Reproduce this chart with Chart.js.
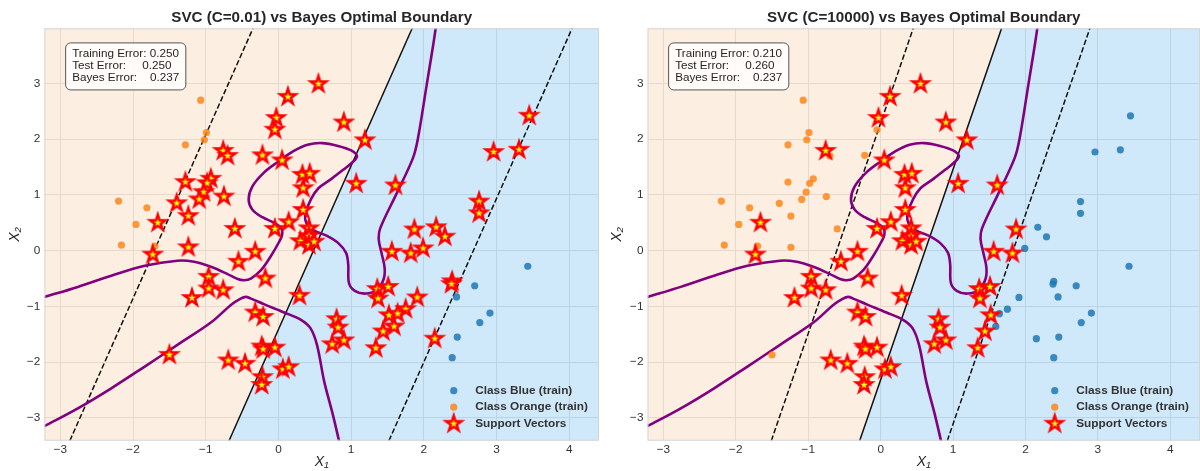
<!DOCTYPE html>
<html>
<head>
<meta charset="utf-8">
<script src="https://cdn.jsdelivr.net/npm/chart.js@4.4.1/dist/chart.umd.min.js"></script>
<style>
  html, body { margin: 0; padding: 0; background: #fff; }
  #wrap { position: relative; width: 1200px; height: 471px; overflow: hidden; }
  .panel { position: absolute; top: 0; width: 600px; height: 471px; }
</style>
</head>
<body>
<div id="wrap">
  <div class="panel" style="left:0"><canvas id="lowC" width="600" height="471"></canvas></div>
  <div class="panel" style="left:600px"><canvas id="highC" width="600" height="471"></canvas></div>
</div>
<script>
// axis limits and ticks
const xLimits = [-3.22, 4.41];
const yLimits = [-3.41, 3.99];
const xTickValues = [-3, -2, -1, 0, 1, 2, 3, 4];
const yTickValues = [-3, -2, -1, 0, 1, 2, 3];

// training data, class blue
const blueX = [2.29, 1.99, 3.43, 2.39, 2.38, 2.70, 2.45, 1.91, 1.75, 1.64, 2.91, 2.77, 1.59, 2.15, 2.46, 2.39, 3.45, 2.96, 3.31, 2.76, 2.76, 2.17,
  -0.76, -1.66, 1.19, 1.07, 1.61, 1.87, -1.73, -0.96, -0.96, -1.19, 1.56, 1.82, 1.36, 1.51, 1.37, 1.52, 1.44, 1.34, 0.80, 0.82, 0.74, 0.90, 0.29, -0.76];
const blueY = [0.25, 0.04, -0.28, -0.55, -0.60, -0.63, -0.83, -0.84, -1.05, -1.13, -1.12, -1.29, -1.36, -1.58, -1.55, -1.92, 2.42, 1.77, 1.81, 0.88, 0.67, 0.42,
  1.79, 0.50, 1.98, 1.20, 1.17, 0.38, -0.07, -0.47, -0.68, -0.85, -0.02, -0.05, -0.69, -0.65, -0.86, -1.16, -1.45, -1.75, -1.23, -1.38, -1.68, -1.61, -0.81, -0.71];

// training data, class orange
const orangeX = [-1.07, -0.99, -1.02, -1.28, -2.20, -1.81, -1.96, -2.16, -1.70, -0.70, -0.22, -0.05, -1.28, -0.93, -0.98, -1.03, -1.09, -0.75, -1.40, -1.24, -0.60, -1.24, -1.50,
  0.55, 0.13, -0.03, 0.05, 0.33, 0.43, 0.34, -0.05, 0.14, 0.34, 0.42, 0.90, -0.55, -0.32, -0.18, -0.32, -0.21, -0.23, -0.21, -0.05, -0.69, -0.46, 0.06, 0.14, -0.22, -0.23, 0.30, 0.42, 0.42, 0.49];
const orangeY = [2.70, 2.12, 1.99, 1.90, 0.89, 0.77, 0.47, 0.10, 0.08, 1.70, 1.71, 2.17, 1.23, 1.29, 1.21, 1.05, 0.92, 0.97, 0.85, 0.62, 0.39, 0.06, -1.87,
  2.99, 2.76, 2.38, 1.62, 1.36, 1.38, 1.12, 0.39, 0.51, 0.73, 0.40, 2.30, -0.20, -0.02, -0.50, -1.11, -1.19, -1.72, -1.77, -1.74, -1.97, -2.03, -2.13, -2.09, -2.27, -2.41, 0.17, 0.26, 0.10, 0.16];

// support vectors of the C=10000 model (also support vectors at C=0.01)
const svHighX = [-0.76, -1.66, 1.19, 1.07, 1.61, 1.87, -1.73, -0.96, -0.96, -1.19, 1.56, 1.82, 1.36, 1.51, 1.37, 1.52, 1.44, 1.34, 0.80, 0.82, 0.74, 0.90, 0.29, -0.76,
  0.55, 0.13, -0.03, 0.05, 0.33, 0.43, 0.34, -0.05, 0.14, 0.34, 0.42, 0.90, -0.55, -0.32, -0.18, -0.32, -0.21, -0.23, -0.21, -0.05, -0.69, -0.46, 0.06, 0.14, -0.22, -0.23, 0.30, 0.42, 0.42, 0.49];
const svHighY = [1.79, 0.50, 1.98, 1.20, 1.17, 0.38, -0.07, -0.47, -0.68, -0.85, -0.02, -0.05, -0.69, -0.65, -0.86, -1.16, -1.45, -1.75, -1.23, -1.38, -1.68, -1.61, -0.81, -0.71,
  2.99, 2.76, 2.38, 1.62, 1.36, 1.38, 1.12, 0.39, 0.51, 0.73, 0.40, 2.30, -0.20, -0.02, -0.50, -1.11, -1.19, -1.72, -1.77, -1.74, -1.97, -2.03, -2.13, -2.09, -2.27, -2.41, 0.17, 0.26, 0.10, 0.16];
// extra support vectors of the C=0.01 model
const svLowExtraX = [-0.70, -0.22, -0.05, -1.28, -0.93, -0.98, -1.03, -1.09, -0.75, -1.40, -1.24, -0.60, -1.24, -1.50,
  2.29, 1.99, 2.39, 2.38, 1.91, 1.75, 1.64, 1.59, 2.15, 3.45, 2.96, 3.31, 2.76, 2.76, 2.17];
const svLowExtraY = [1.70, 1.71, 2.17, 1.23, 1.29, 1.21, 1.05, 0.92, 0.97, 0.85, 0.62, 0.39, 0.06, -1.87,
  0.25, 0.04, -0.55, -0.60, -0.84, -1.05, -1.13, -1.36, -1.58, 2.42, 1.77, 1.81, 0.88, 0.67, 0.42];

// SVC boundary and margins: x where they cross y = yLimits[0] and y = yLimits[1]
const lowCDecisionX = [-0.68, 1.84];
const lowCMarginNegX = [-2.87, -0.35];
const lowCMarginPosX = [1.52, 4.04];
const highCDecisionX = [-0.29, 1.67];
const highCMarginNegX = [-1.51, 0.45];
const highCMarginPosX = [0.92, 2.89];

// Bayes optimal boundary (two contour pieces)
const bayesUpperX = [-3.22, -2.76, -2.30, -1.84, -1.39, -1.16, -0.93, -0.70, -0.56, -0.47, -0.38, -0.24, -0.11, 0.01, 0.05, 0.04, -0.06, -0.22, -0.36, -0.41,
  -0.36, -0.20, 0.00, 0.20, 0.40, 0.60, 0.82, 1.00, 1.08, 1.03, 0.89, 0.71, 0.55, 0.45, 0.38, 0.37, 0.42, 0.52, 0.66, 0.82,
  0.93, 0.96, 0.97, 1.05, 1.20, 1.36, 1.45, 1.46, 1.42, 1.38, 1.40, 1.62, 1.85, 1.92, 2.04, 2.13, 2.17];
const bayesUpperY = [-0.83, -0.65, -0.45, -0.27, -0.18, -0.20, -0.29, -0.42, -0.51, -0.53, -0.50, -0.35, -0.11, 0.16, 0.28, 0.40, 0.50, 0.60, 0.74, 0.92,
  1.15, 1.40, 1.60, 1.78, 1.90, 1.93, 1.88, 1.80, 1.70, 1.60, 1.45, 1.27, 1.12, 0.93, 0.70, 0.55, 0.42, 0.34, 0.27, 0.14,
  -0.04, -0.25, -0.58, -0.72, -0.77, -0.70, -0.50, -0.30, -0.05, 0.20, 0.40, 1.01, 1.66, 2.02, 2.98, 3.70, 4.05];
const bayesLowerX = [-3.22, -2.76, -2.30, -1.84, -1.39, -0.93, -0.65, -0.52, -0.45, -0.38, -0.20, 0.08, 0.31, 0.44, 0.53, 0.63, 0.75, 0.84];
const bayesLowerY = [-3.15, -2.83, -2.47, -2.08, -1.69, -1.29, -0.97, -0.86, -0.83, -0.86, -0.96, -1.11, -1.24, -1.39, -1.69, -2.35, -2.95, -3.45];

// errors
const cLabels = ["0.01", "10000"];
const trainingErrors = [0.250, 0.210];
const testErrors = [0.250, 0.260];
const bayesError = 0.237;

const FONT = "'Liberation Sans', Arial, sans-serif";
const TEXT = "#262626";

function pts(xs, ys) {
    return xs.map(function (x, i) { return { x: x, y: ys[i] }; });
}

function linePts(xs) {
    return [{ x: xs[0], y: yLimits[0] }, { x: xs[1], y: yLimits[1] }];
}

function makeStar() {
    const c = document.createElement("canvas");
    c.width = 28;
    c.height = 28;
    const g = c.getContext("2d");
    const R = 8.1, r = R * 0.382;
    g.beginPath();
    for (let i = 0; i < 10; i++) {
        const a = -Math.PI / 2 + i * Math.PI / 5;
        const rad = i % 2 ? r : R;
        g.lineTo(14 + rad * Math.cos(a), 14 + rad * Math.sin(a));
    }
    g.closePath();
    g.fillStyle = "#ffff00";
    g.fill();
    g.lineJoin = "miter";
    g.lineWidth = 2.5;
    g.strokeStyle = "#ff0000";
    g.stroke();
    return c;
}

const starImg = makeStar();
const BLUE = "rgba(31,119,180,0.85)";
const ORANGE = "rgba(255,127,14,0.8)";

const overlay = {
    id: "overlay",
    afterDatasetsDraw(chart, args, opts) {
        const ctx = chart.ctx;
        const a = chart.chartArea;
        const W = a.right - a.left, H = a.bottom - a.top;
        ctx.save();

        // frame
        ctx.strokeStyle = "#d4d4d4";
        ctx.lineWidth = 1;
        ctx.strokeRect(a.left + 0.5, a.top + 0.5, W - 1, H - 1);

        // error box
        ctx.font = "11.7px " + FONT;
        ctx.textBaseline = "middle";
        ctx.textAlign = "left";
        const lines = opts.lines;
        let w = 0;
        lines.forEach(function (t) { w = Math.max(w, ctx.measureText(t).width); });
        const tx = a.left + 0.05 * W;
        const ty = a.top + 0.05 * H;
        const bx = tx - 6.5, by = ty - 6, bw = w + 13, bh = 47;
        ctx.beginPath();
        ctx.roundRect(bx, by, bw, bh, 5);
        ctx.fillStyle = "rgba(255,255,255,0.8)";
        ctx.fill();
        ctx.strokeStyle = "#555";
        ctx.lineWidth = 1;
        ctx.stroke();
        ctx.fillStyle = TEXT;
        lines.forEach(function (t, i) { ctx.fillText(t, tx, by + 10.5 + 12 * i); });

        // legend
        const items = [
            { label: "Class Blue (train)", kind: "blue" },
            { label: "Class Orange (train)", kind: "orange" },
            { label: "Support Vectors", kind: "star" }
        ];
        ctx.font = "bold 11.8px " + FONT;
        let lw = 0;
        items.forEach(function (it) { lw = Math.max(lw, ctx.measureText(it.label).width); });
        const textX = a.right - 11 - lw;
        const markX = textX - 21.5;
        items.forEach(function (it, i) {
            const y = a.bottom - 17 - 16.5 * (2 - i);
            if (it.kind === "star") {
                ctx.drawImage(starImg, markX - 14, y - 14);
            } else {
                ctx.beginPath();
                ctx.arc(markX, y, 3.6, 0, Math.PI * 2);
                ctx.fillStyle = it.kind === "blue" ? BLUE : ORANGE;
                ctx.fill();
            }
            ctx.fillStyle = "#333";
            ctx.fillText(it.label, textX, y);
        });
        ctx.restore();
    }
};

function fmt(v) {
    return v < 0 ? "\u2212" + Math.abs(v) : String(v);
}

function noPad(s) {
    s.paddingLeft = 0;
    s.paddingRight = 0;
    s.paddingTop = 0;
    s.paddingBottom = 0;
}

function makeChart(id, k, svX, svY, decisionX, marginNegX, marginPosX, yAxisWidth, yTitlePad, rightPad) {
    const canvas = document.getElementById(id);
    const lineBase = { type: "scatter", showLine: true, pointRadius: 0, tension: 0, clip: 0 };

    new Chart(canvas, {
        type: "scatter",
        data: {
            datasets: [
                { label: "Support Vectors", data: pts(svX, svY), pointStyle: starImg, order: 0 },
                { label: "Class Orange (train)", data: pts(orangeX, orangeY), pointRadius: 3.6, backgroundColor: ORANGE, borderWidth: 0, order: 1 },
                { label: "Class Blue (train)", data: pts(blueX, blueY), pointRadius: 3.6, backgroundColor: BLUE, borderWidth: 0, order: 2 },
                Object.assign({}, lineBase, { data: pts(bayesUpperX, bayesUpperY), borderColor: "#800080", borderWidth: 2.6, tension: 0.35, order: 3 }),
                Object.assign({}, lineBase, { data: pts(bayesLowerX, bayesLowerY), borderColor: "#800080", borderWidth: 2.6, tension: 0.35, order: 3 }),
                Object.assign({}, lineBase, { data: linePts(decisionX), borderColor: "#111", borderWidth: 1.5, order: 4 }),
                Object.assign({}, lineBase, { data: linePts(marginNegX), borderColor: "#111", borderWidth: 1.5, borderDash: [5.5, 2.4], order: 4 }),
                Object.assign({}, lineBase, { data: linePts(marginPosX), borderColor: "#111", borderWidth: 1.5, borderDash: [5.5, 2.4], order: 4 }),
                // predicted regions: orange left of the boundary, blue right of it
                Object.assign({}, lineBase, {
                    data: [{ x: xLimits[0], y: yLimits[0] }, { x: decisionX[0], y: yLimits[0] }, { x: decisionX[1], y: yLimits[1] }],
                    borderWidth: 0, fill: "end", backgroundColor: "rgba(250,212,182,0.4)", order: 9
                }),
                Object.assign({}, lineBase, {
                    data: [{ x: decisionX[0], y: yLimits[0] }, { x: decisionX[1], y: yLimits[1] }, { x: xLimits[1], y: yLimits[1] }],
                    borderWidth: 0, fill: "start", backgroundColor: "rgba(135,197,242,0.4)", order: 10
                })
            ]
        },
        options: {
            responsive: false,
            animation: false,
            events: [],
            layout: { autoPadding: false, padding: { left: 0, right: rightPad, top: 0, bottom: 0 } },
            plugins: {
                legend: { display: false },
                tooltip: { enabled: false },
                title: {
                    display: true,
                    fullSize: false,
                    text: "SVC (C=" + cLabels[k] + ") vs Bayes Optimal Boundary",
                    color: TEXT,
                    font: { family: FONT, size: 15.2, weight: "bold" },
                    padding: { top: 9, bottom: 1.06 }
                },
                overlay: {
                    lines: [
                        "Training Error: " + trainingErrors[k].toFixed(3),
                        "Test Error:     " + testErrors[k].toFixed(3),
                        "Bayes Error:    " + bayesError.toFixed(3)
                    ]
                }
            },
            scales: {
                x: {
                    type: "linear",
                    min: xLimits[0],
                    max: xLimits[1],
                    afterBuildTicks: function (s) { s.ticks = xTickValues.map(function (v) { return { value: v }; }); },
                    afterFit: function (s) { s.height = 30.3; noPad(s); },
                    grid: { color: "#dcdcdc", drawTicks: false },
                    border: { display: false },
                    ticks: { padding: 2, color: "#333", font: { family: FONT, size: 11.8 }, callback: fmt },
                    title: { display: true, text: "X\u2081", color: TEXT, font: { family: FONT, size: 14, style: "italic" }, padding: { top: 0, bottom: 0 } }
                },
                y: {
                    type: "linear",
                    min: yLimits[0],
                    max: yLimits[1],
                    afterBuildTicks: function (s) { s.ticks = yTickValues.map(function (v) { return { value: v }; }); },
                    afterFit: function (s) { s.width = yAxisWidth; noPad(s); },
                    grid: { color: "#dcdcdc", drawTicks: false },
                    border: { display: false },
                    ticks: { padding: 4, color: "#333", font: { family: FONT, size: 11.8 }, callback: fmt },
                    title: { display: true, text: "X\u2082", color: TEXT, font: { family: FONT, size: 14, style: "italic" }, padding: { top: yTitlePad, bottom: 0 } }
                }
            }
        },
        plugins: [overlay]
    });
}

makeChart("lowC", 0, svHighX.concat(svLowExtraX), svHighY.concat(svLowExtraY),
    lowCDecisionX, lowCMarginNegX, lowCMarginPosX, 44.4, 7, 1);
makeChart("highC", 1, svHighX, svHighY,
    highCDecisionX, highCMarginNegX, highCMarginPosX, 47.5, 9, -2);
</script>
</body>
</html>
